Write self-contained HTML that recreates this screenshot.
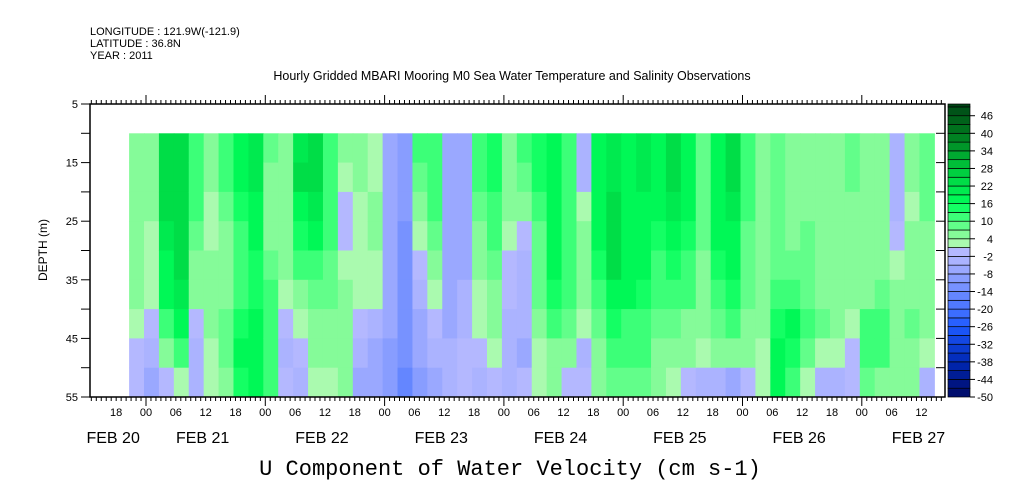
<!DOCTYPE html>
<html><head><meta charset="utf-8"><style>
body{margin:0;background:#fff;}
svg{display:block;font-family:"Liberation Sans",sans-serif;}
</style></head><body>
<svg id="chart" width="1009" height="504" viewBox="0 0 1009 504" xmlns="http://www.w3.org/2000/svg">
<g font-size="11" fill="#000">
<text x="90" y="35">LONGITUDE : 121.9W(-121.9)</text>
<text x="90" y="47">LATITUDE : 36.8N</text>
<text x="90" y="59">YEAR : 2011</text>
</g>
<text x="512" y="80" text-anchor="middle" font-size="12.5">Hourly Gridded MBARI Mooring M0 Sea Water Temperature and Salinity Observations</text>
<g id="heat"></g>
<g id="axes"></g>
<g id="cbar"></g>
<text x="47" y="250" transform="rotate(-90 47 250)" text-anchor="middle" font-size="12">DEPTH (m)</text>
<text x="510" y="475" text-anchor="middle" font-family="Liberation Mono, monospace" font-size="22">U Component of Water Velocity (cm s-1)</text>
</svg>
<script>
// time columns: 3-hour bins starting Feb 20 ~17:00 (hours relative to Feb 21 00:00)
const startHour = -3.4;
const binHours = 3;
// depth bins (m), top edges
const depthEdges = [10,15,20,25,30,35,40,45,50,55];
// velocity profiles per time bin (cm/s), top -> bottom
const profiles = [
[6,6,6,6,6,4,2,0,-2],[4,4,4,3,3,2,-2,-4,-6],[22,22,22,20,18,16,10,4,-2],[24,24,24,22,22,20,16,10,2],
[12,12,10,8,6,4,-2,-4,-4],[6,4,2,2,4,6,4,2,2],[10,10,8,6,4,6,8,8,6],[16,16,14,12,12,12,14,16,14],
[20,20,18,16,14,14,16,18,16],[8,6,6,6,8,10,12,12,10],[4,4,4,4,4,2,-2,-4,-2],[20,22,18,14,10,6,2,-2,-4],
[22,22,20,16,12,8,4,4,2],[12,12,10,10,8,8,6,4,2],[4,2,-2,-2,2,4,6,4,4],[6,4,2,2,2,2,-2,-4,-6],
[2,2,4,4,2,2,-4,-6,-6],[-6,-6,-6,-6,-6,-8,-8,-10,-10],[-10,-10,-10,-12,-12,-12,-14,-14,-16],[10,8,4,2,-2,-4,-6,-8,-10],
[12,12,10,8,4,2,-2,-4,-6],[-8,-8,-8,-8,-6,-6,-6,-4,-4],[-6,-8,-8,-8,-6,-4,-4,-2,-2],[10,10,8,6,4,2,2,-2,-4],
[14,14,12,10,8,6,4,2,-2],[6,6,4,2,-2,-2,-4,-4,-4],[10,8,4,-2,-4,-4,-4,-6,-2],[14,14,12,8,8,8,6,2,2],
[18,18,18,18,16,14,10,6,4],[12,12,12,10,10,10,8,4,-2],[-4,-4,2,4,6,4,2,-4,-2],[16,16,16,16,14,12,8,6,4],
[20,20,22,24,22,18,14,10,8],[16,16,16,18,18,16,12,10,8],[20,20,18,18,16,14,12,10,8],[18,18,16,14,12,10,8,6,4],
[24,22,20,18,14,12,8,6,2],[18,18,16,14,12,10,6,4,-2],[8,8,8,8,6,6,4,2,-4],[18,18,18,16,14,12,8,4,-4],
[22,22,20,18,16,14,10,4,-6],[10,10,10,8,8,8,6,4,-2],[6,4,4,4,4,4,4,2,2],[8,8,8,8,8,10,14,16,18],
[4,4,6,6,8,10,16,14,10],[6,6,6,8,8,8,10,8,2],[6,6,6,4,4,6,8,2,-4],[4,4,4,4,4,4,6,2,-4],
[8,8,6,6,4,4,2,0,-2],[6,6,6,4,4,6,10,12,8],[4,4,4,4,4,8,12,10,6],[-4,-4,-4,-2,2,4,6,4,4],
[4,4,2,4,4,6,8,6,4],[8,8,8,6,6,6,4,2,-4]
];
const hourTickLabels = ["18","00","06","12","18","00","06","12","18","00","06","12","18","00","06","12","18","00","06","12","18","00","06","12","18","00","06","12"];
const dayLabels = ["FEB 20","FEB 21","FEB 22","FEB 23","FEB 24","FEB 25","FEB 26","FEB 27"];
const dayLabelHours = [-6,12,36,60,84,108,132,156];
const depthTicks = [5,15,25,35,45,55];
const cbarLabels = [46,40,34,28,22,16,10,4,-2,-8,-14,-20,-26,-32,-38,-44,-50];

const NS="http://www.w3.org/2000/svg";
const X0=146, PXD=119.3, XL=90, XR=945, YT=104, YB=397;
const xs=h=>X0+h*PXD/24;
const ys=d=>YT+(d-5)*(YB-YT)/50;
const hMin=(XL-X0)*24/PXD, hMax=(XR-X0)*24/PXD;
function el(tag,attrs,parent){const e=document.createElementNS(NS,tag);for(const k in attrs)e.setAttribute(k,attrs[k]);parent.appendChild(e);return e;}
function lerp(a,b,t){return a.map((v,i)=>Math.round(v+(b[i]-v)*t));}
function ramp(stops,v){for(let i=0;i<stops.length-1;i++){const[a,ca]=stops[i],[b,cb]=stops[i+1];if(v>=a&&v<=b)return lerp(ca,cb,(v-a)/(b-a));}return v<stops[0][0]?stops[0][1]:stops[stops.length-1][1];}
const pos=[[1,[190,250,190]],[4,[150,250,160]],[10,[80,255,130]],[16,[0,255,90]],[28,[0,200,60]],[40,[0,120,30]],[52,[0,60,20]]];
const neg=[[-50,[0,10,100]],[-38,[0,40,180]],[-26,[30,90,255]],[-14,[110,140,255]],[-2,[180,184,255]],[1,[180,184,255]]];
function color(v){const b=-50+Math.floor((v+50)/3)*3+1.5;const c=b>=1?ramp(pos,b):ramp(neg,b);return`rgb(${c[0]},${c[1]},${c[2]})`;}

const heat=document.getElementById('heat');
profiles.forEach((p,i)=>{
  const h0=startHour+i*binHours, x0=Math.max(xs(h0),xs(-3.4)), x1=Math.min(xs(h0+binHours),935);
  p.forEach((v,j)=>{
    const r=el('rect',{x:x0,y:ys(depthEdges[j]),width:Math.max(0,x1-x0)+0.5,height:ys(depthEdges[j+1])-ys(depthEdges[j])+0.5,fill:color(v)},heat);
    
    
  });
});

const ax=document.getElementById('axes');
const frame=el('rect',{x:XL,y:YT,width:XR-XL,height:YB-YT,fill:'none',stroke:'#000','stroke-width':1.5},ax);


for(let h=Math.ceil(hMin);h<=hMax;h++){
  const x=xs(h), major=(h%24===0);
  const L=major?9:4;
  el('line',{x1:x,y1:YT,x2:x,y2:YT-L,stroke:'#000'},ax);
  el('line',{x1:x,y1:YB,x2:x,y2:YB+L,stroke:'#000'},ax);
}
hourTickLabels.forEach((t,i)=>{
  const h=-6+i*6;
  const tx=el('text',{x:xs(h),y:416,'text-anchor':'middle','font-size':11},ax);
  tx.textContent=t;
  
  
});
dayLabels.forEach((t,i)=>{
  const tx=el('text',{x:xs(dayLabelHours[i])-3,y:443,'text-anchor':'middle','font-size':16},ax);
  tx.textContent=t;
  
  
});
for(let d=5;d<=55;d+=5){
  const y=ys(d);
  el('line',{x1:XL,y1:y,x2:XL-9,y2:y,stroke:'#000'},ax);
  el('line',{x1:XR,y1:y,x2:XR-9,y2:y,stroke:'#000'},ax);
}
depthTicks.forEach(d=>{
  const tx=el('text',{x:78,y:ys(d)+4,'text-anchor':'end','font-size':11},ax);
  tx.textContent=d;
  
  
});

const cb=document.getElementById('cbar');
const cy=v=>YB-(v+50)*(YB-YT)/100;
for(let v=-50;v<50;v+=3){
  const top=Math.min(50,v+3);
  const r=el('rect',{x:948,y:cy(top),width:22,height:cy(v)-cy(top),fill:color(v+0.1),stroke:'#000','stroke-width':0.7},cb);
  
  
}
cbarLabels.forEach(v=>{
  el('line',{x1:970,y1:cy(v),x2:975,y2:cy(v),stroke:'#000'},cb);
  const tx=el('text',{x:993,y:cy(v)+4,'text-anchor':'end','font-size':11},cb);
  tx.textContent=v;
  
  
});
</script>
</body></html>
